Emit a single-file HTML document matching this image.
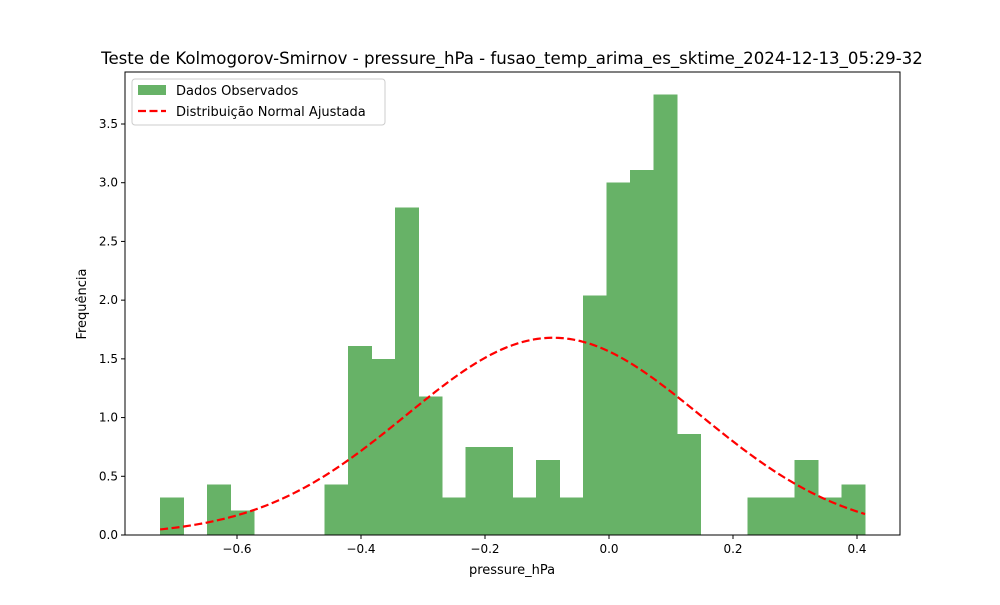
<!DOCTYPE html>
<html><head><meta charset="utf-8"><style>
body{margin:0;background:#fff;font-family:"Liberation Sans","DejaVu Sans",sans-serif;}
svg text{font-family:"DejaVu Sans","Liberation Sans",sans-serif;}
</style></head><body>
<svg id="c" width="1000" height="600" xmlns="http://www.w3.org/2000/svg"></svg>
<script>
const binStart = -0.724;
const binEnd = 0.413;
const freqs = [0.32,0,0.43,0.21,0,0,0,0.43,1.61,1.5,2.79,1.18,0.32,0.75,0.75,0.32,0.64,0.32,2.04,3.0,3.11,3.75,0.86,0,0,0.32,0.32,0.64,0.32,0.43];
const fitMu = [-0.09];
const fitSigma = [0.2375];
const xTicks = [-0.6,-0.4,-0.2,0.0,0.2,0.4];
const xTickLabels = ["−0.6","−0.4","−0.2","0.0","0.2","0.4"];
const yTicks = [0,0.5,1,1.5,2,2.5,3,3.5];
const yTickLabels = ["0.0","0.5","1.0","1.5","2.0","2.5","3.0","3.5"];

const NS="http://www.w3.org/2000/svg";
const svg=document.getElementById('c');
const L=125,R=900,T=72,B=535;
const X=v=>609+v*620;
const Y=v=>535-v*117.43;
function mk(tag,attrs,parent){const e=document.createElementNS(NS,tag);for(const k in attrs)e.setAttribute(k,attrs[k]);(parent||svg).appendChild(e);return e;}

const bars=mk('g',{'shape-rendering':'crispEdges'});


const n=freqs.length,w=(binEnd-binStart)/n;
freqs.forEach((f,i)=>{
  if(f<=0)return;
  const x0=X(binStart+i*w),x1=X(binStart+(i+1)*w);
  const r=mk('rect',{x:x0,y:Y(f),width:x1-x0+0.6,height:Y(0)-Y(f),fill:'#67b267'},bars);
  
  
});

const mu=fitMu[0],sg=fitSigma[0];
let d='';
for(let k=0;k<=200;k++){
  const xv=binStart+(binEnd-binStart)*k/200;
  const pv=Math.exp(-0.5*((xv-mu)/sg)**2)/(sg*Math.sqrt(2*Math.PI));
  d+=(k?'L':'M')+X(xv).toFixed(2)+','+Y(pv).toFixed(2);
}
const cl=mk('path',{d:d,fill:'none',stroke:'#ff0000','stroke-width':2.2,'stroke-dasharray':'8,3.5'});



const fr=mk('rect',{x:L,y:T,width:R-L,height:B-T,fill:'none',stroke:'#000','stroke-width':1});



xTicks.forEach((t,i)=>{
  mk('line',{x1:X(t),x2:X(t),y1:B,y2:B+4,stroke:'#000'});
  const tx=mk('text',{x:X(t),y:B+18,'font-size':12,'text-anchor':'middle'});
  tx.textContent=xTickLabels[i];
  
  
});
yTicks.forEach((t,i)=>{
  mk('line',{x1:L-4,x2:L,y1:Y(t),y2:Y(t),stroke:'#000'});
  const tx=mk('text',{x:L-7,y:Y(t)+4,'font-size':12,'text-anchor':'end'});
  tx.textContent=yTickLabels[i];
  
  
});
</script>
<svg width="1000" height="600" style="position:absolute;left:0;top:0" xmlns="http://www.w3.org/2000/svg">
<text x="512" y="64" font-size="16.6" text-anchor="middle" font-family="DejaVu Sans, Liberation Sans, sans-serif">Teste de Kolmogorov-Smirnov - pressure_hPa - fusao_temp_arima_es_sktime_2024-12-13_05:29-32</text>
<text x="512" y="574" font-size="13" text-anchor="middle" font-family="DejaVu Sans, Liberation Sans, sans-serif">pressure_hPa</text>
<text x="86" y="304" font-size="13" text-anchor="middle" transform="rotate(-90 86 304)" font-family="DejaVu Sans, Liberation Sans, sans-serif">Frequência</text>
<g>
<rect x="132" y="79" width="253" height="46" rx="3" fill="#fff" fill-opacity="0.8" stroke="#ccc"/>
<rect x="138" y="85" width="28" height="10" fill="#67b267"/>
<text x="176" y="95" font-size="13" font-family="DejaVu Sans, Liberation Sans, sans-serif">Dados Observados</text>
<line x1="138" y1="111" x2="166" y2="111" stroke="#ff0000" stroke-width="2.2" stroke-dasharray="8,3.5"/>
<text x="176" y="116" font-size="13" font-family="DejaVu Sans, Liberation Sans, sans-serif">Distribuição Normal Ajustada</text>
</g>
</svg>
</body></html>
